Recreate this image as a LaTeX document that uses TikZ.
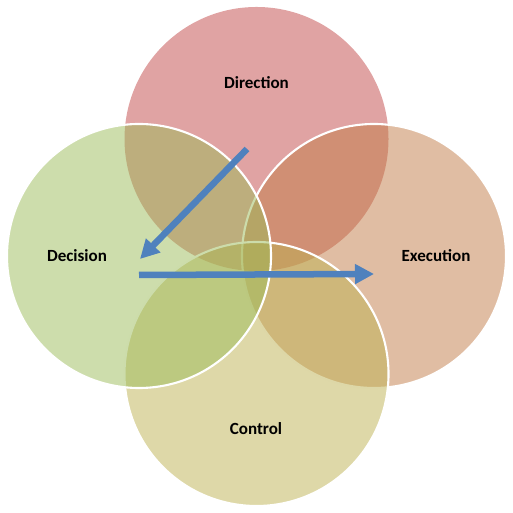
\documentclass[tikz,border=0pt]{standalone}
\usepackage{fontspec}
\setmainfont{Carlito}
\usepackage{xcolor}
\usetikzlibrary{arrows.meta}

\definecolor{dirred}{RGB}{193,71,71}
\definecolor{exeorange}{RGB}{194,124,72}
\definecolor{ctrlolive}{RGB}{189,177,81}
\definecolor{decgreen}{RGB}{155,187,89}
\definecolor{flowblue}{RGB}{79,129,189}

\begin{document}
\begin{tikzpicture}[
    ring/.style={circle, draw=white, line width=1.2pt, fill opacity=0.5, minimum size=5.28cm, inner sep=0pt},
    lbl/.style={font=\fontsize{9.7}{12}\selectfont\bfseries},
    flow/.style={-{Triangle[length=0.38cm, width=0.38cm]}, line width=3.7pt, flowblue}]
    \useasboundingbox (0,0) rectangle (10.26,10.26);

    % circles, back to front
    \node[ring, draw=none, fill=dirred] (dir) at (5.13,7.48) {};
    \node[ring, fill=exeorange] (exe) at (7.48,5.14) {};
    \node[ring, fill=ctrlolive] (ctrl) at (5.13,2.78) {};
    \node[ring, fill=decgreen] (dec) at (2.78,5.14) {};

    \node[lbl] (dirlbl) at (5.13,8.60) {Direction};
    \node[lbl] (declbl) at (1.54,5.14) {Decision};
    \node[lbl] (exelbl) at (8.72,5.14) {Execution};
    \node[lbl] (ctrllbl) at (5.12,1.68) {Control};

    \coordinate (d0) at (4.94,7.28);
    \coordinate (d1) at (2.80,5.08);
    \coordinate (h0) at (2.78,4.76);
    \coordinate (h1) at (7.48,4.78);
    \draw[flow] (d0) -- (d1);
    \draw[flow] (h0) -- (h1);
\end{tikzpicture}
\end{document}
